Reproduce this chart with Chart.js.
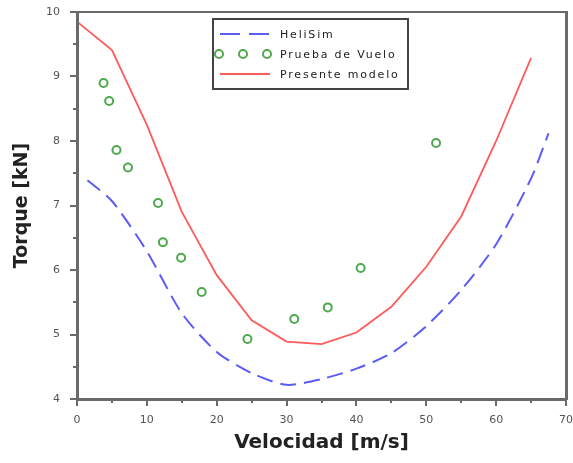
<!DOCTYPE html>
<html>
<head>
<meta charset="utf-8">
<script src="https://cdn.jsdelivr.net/npm/chart.js@4/dist/chart.umd.min.js"></script>
<style>
  html, body { margin: 0; padding: 0; background: #fff; }
  #wrap { width: 573px; height: 463px; position: relative; }
</style>
</head>
<body>
<div id="wrap"><canvas id="torqueChart"></canvas></div>
<script>
// datos
const heliSimX = [1.5, 5, 10, 15, 20, 25, 30, 35, 40, 45, 50, 55, 60, 65, 67.5];
const heliSimY = [7.39, 7.07, 6.29, 5.33, 4.73, 4.40, 4.22, 4.31, 4.47, 4.71, 5.13, 5.69, 6.40, 7.42, 8.12];

const vueloX = [3.8, 4.6, 5.65, 7.3, 11.6, 12.3, 14.9, 17.85, 24.4, 31.1, 35.9, 40.6, 51.4];
const vueloY = [8.90, 8.62, 7.86, 7.59, 7.04, 6.43, 6.19, 5.66, 4.93, 5.24, 5.42, 6.03, 7.97];

const modeloX = [0, 5, 10, 15, 20, 25, 30, 35, 40, 45, 50, 55, 60, 65];
const modeloY = [9.85, 9.41, 8.25, 6.90, 5.92, 5.22, 4.89, 4.85, 5.03, 5.43, 6.05, 6.83, 8.00, 9.29];

const xTicks = [0, 10, 20, 30, 40, 50, 60, 70];
const yTicks = [4, 5, 6, 7, 8, 9, 10];

const seriesNames = ['HeliSim', 'Prueba de Vuelo', 'Presente modelo'];

function toPoints(xs, ys) {
    return xs.map((x, i) => ({ x: x, y: ys[i] }));
}

const frameColor = '#6a6a6a';

// marco, marcas de los ejes y leyenda
const overlayPlugin = {
    id: 'overlayPlugin',
    afterDraw(chart) {
        const c = chart.ctx;
        const xs = chart.scales.x;
        const ys = chart.scales.y;
        const left = Math.round(xs.getPixelForValue(0));
        const right = Math.round(xs.getPixelForValue(70));
        const top = Math.round(ys.getPixelForValue(10));
        const bottom = Math.round(ys.getPixelForValue(4));

        c.save();
        c.fillStyle = frameColor;

        // marcas
        for (let v = 0; v <= 70; v += 5) {
            const px = Math.round(xs.getPixelForValue(v));
            const len = (v % 10 === 0) ? 7 : 4;
            c.fillRect(px - 1, bottom, 2, len);
        }
        for (let i = 0; i <= 12; i++) {
            const py = Math.round(ys.getPixelForValue(4 + i * 0.5));
            const len = (i % 2 === 0) ? 7 : 4;
            c.fillRect(left - len, py - 1, len, 2);
        }

        // marco
        c.fillRect(left - 1, top - 1, 3, bottom - top + 2);
        c.fillRect(left - 1, bottom - 1, right - left + 2, 3);
        c.fillRect(left - 1, top - 1, right - left + 2, 2);
        c.fillRect(right - 1, top - 1, 3, bottom - top + 2);

        // leyenda
        const ds = chart.data.datasets;
        const lx = 213, ly = 19, lw = 195, lh = 70;
        const rows = [34, 54, 74];
        c.fillStyle = '#fff';
        c.fillRect(lx, ly, lw, lh);
        c.strokeStyle = '#444';
        c.lineWidth = 2;
        c.strokeRect(lx, ly, lw, lh);

        c.strokeStyle = ds[0].borderColor;
        c.lineWidth = ds[0].borderWidth;
        c.setLineDash([20, 9]);
        c.beginPath();
        c.moveTo(220, rows[0]);
        c.lineTo(270, rows[0]);
        c.stroke();
        c.setLineDash([]);

        c.strokeStyle = ds[1].pointBorderColor;
        c.lineWidth = ds[1].pointBorderWidth;
        [219, 243, 267].forEach(cx => {
            c.beginPath();
            c.arc(cx, rows[1], ds[1].pointRadius, 0, Math.PI * 2);
            c.stroke();
        });

        c.strokeStyle = ds[2].borderColor;
        c.lineWidth = ds[2].borderWidth;
        c.beginPath();
        c.moveTo(220, rows[2]);
        c.lineTo(270, rows[2]);
        c.stroke();

        c.font = '11px "DejaVu Sans"';
        c.letterSpacing = '1.8px';
        c.textBaseline = 'middle';
        c.textAlign = 'left';
        c.fillStyle = '#222';
        seriesNames.forEach((name, i) => {
            c.fillText(name, 280, rows[i] + 1);
        });
        c.restore();
    }
};

const ctx = document.getElementById('torqueChart').getContext('2d');

new Chart(ctx, {
    type: 'scatter',
    data: {
        datasets: [
            {
                label: seriesNames[0],
                data: toPoints(heliSimX, heliSimY),
                showLine: true,
                borderColor: '#5b5bf5',
                borderWidth: 2,
                borderDash: [16, 8],
                pointRadius: 0,
                tension: 0.25,
                fill: false
            },
            {
                label: seriesNames[1],
                data: toPoints(vueloX, vueloY),
                showLine: false,
                pointRadius: 4,
                pointBorderWidth: 2,
                pointBorderColor: '#4fa84f',
                pointBackgroundColor: 'rgba(0,0,0,0)'
            },
            {
                label: seriesNames[2],
                data: toPoints(modeloX, modeloY),
                showLine: true,
                borderColor: '#ff5a5a',
                borderWidth: 1.8,
                pointRadius: 0,
                tension: 0,
                fill: false
            }
        ]
    },
    options: {
        responsive: true,
        maintainAspectRatio: false,
        animation: false,
        layout: {
            padding: { left: 0, top: 12, right: 7, bottom: 0 }
        },
        plugins: {
            legend: { display: false },
            tooltip: { enabled: false }
        },
        scales: {
            x: {
                type: 'linear',
                min: 0,
                max: 70,
                afterBuildTicks: scale => {
                    scale.ticks = xTicks.map(v => ({ value: v }));
                },
                afterFit: scale => {
                    scale.height = 64;
                    scale.paddingLeft = 0;
                    scale.paddingRight = 0;
                },
                grid: { display: false, drawTicks: false },
                border: { display: false },
                ticks: {
                    color: '#555',
                    padding: 15,
                    font: { family: 'DejaVu Sans', size: 11 }
                },
                title: {
                    display: true,
                    text: 'Velocidad [m/s]',
                    color: '#222',
                    padding: { top: 4, bottom: 8 },
                    font: { family: 'DejaVu Sans', size: 20, weight: 'bold' }
                }
            },
            y: {
                type: 'linear',
                min: 4,
                max: 10,
                afterBuildTicks: scale => {
                    scale.ticks = yTicks.map(v => ({ value: v }));
                },
                afterFit: scale => {
                    scale.width = 77;
                    scale.paddingTop = 0;
                    scale.paddingBottom = 0;
                },
                grid: { display: false, drawTicks: false },
                border: { display: false },
                ticks: {
                    color: '#555',
                    padding: 17,
                    font: { family: 'DejaVu Sans', size: 11 }
                },
                title: {
                    display: true,
                    text: 'Torque [kN]',
                    color: '#222',
                    padding: { top: 11, bottom: 4 },
                    font: { family: 'DejaVu Sans', size: 19, weight: 'bold' }
                }
            }
        }
    },
    plugins: [overlayPlugin]
});
</script>
</body>
</html>
